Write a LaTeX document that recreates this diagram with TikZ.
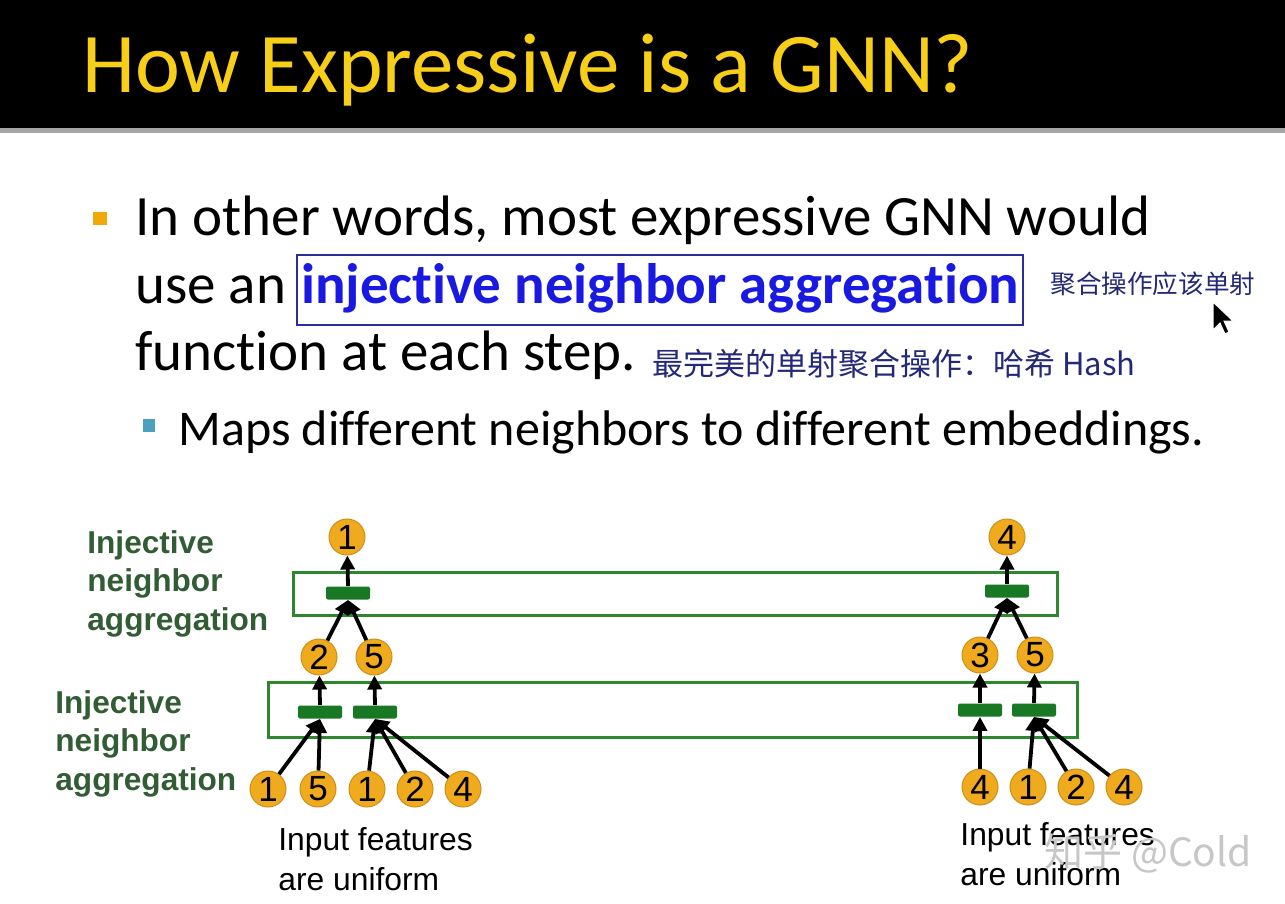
\documentclass[tikz,border=0pt]{standalone}
\usepackage{fontspec}
\usepackage{xcolor}
\usepackage{tikz}
\usetikzlibrary{arrows.meta,positioning}
\setmainfont{Carlito}[Ligatures=NoCommon]
\newfontfamily\arialf{Liberation Sans}
\newfontfamily\cjkf{Noto Sans CJK SC}
\definecolor{slidegold}{RGB}{247,206,24}
\definecolor{bulletorange}{RGB}{240,168,10}
\definecolor{bulletblue}{RGB}{75,160,190}
\definecolor{keyblue}{RGB}{25,25,225}
\definecolor{keyframe}{RGB}{45,45,150}
\definecolor{penblue}{RGB}{35,40,120}
\definecolor{labgreen}{RGB}{50,92,52}
\definecolor{boxgreen}{RGB}{45,135,45}
\definecolor{bargreen}{RGB}{25,120,35}
\definecolor{featorange}{RGB}{240,170,30}

\begin{document}
\begin{tikzpicture}[x=0.5pt,y=-0.5pt,
  feat/.style={circle, fill=featorange, draw=featorange!85!black, line width=0.5pt,
               minimum size=18pt, inner sep=0pt, font=\arialf\fontsize{17.5}{17.5}\selectfont},
  aggbar/.style={rectangle, rounded corners=1pt, fill=bargreen, minimum width=22pt,
               minimum height=6.5pt, inner sep=0pt},
  layerbox/.style={draw=boxgreen, line width=1.5pt},
  arr/.style={-{Triangle[length=7pt,width=7pt]}, line width=1.9pt, black},
  body/.style={anchor=base west, inner sep=0pt, font=\fontsize{28.5}{34}\selectfont},
  sub/.style={anchor=base west, inner sep=0pt, font=\fontsize{25}{30}\selectfont},
  pen/.style={anchor=base west, inner sep=0pt, text=penblue},
  lab/.style={anchor=north west, inner sep=0pt, align=left, text=labgreen,
              font=\arialf\bfseries\fontsize{15.8}{19.2}\selectfont},
  note/.style={anchor=north west, inner sep=0pt, align=left,
              font=\arialf\fontsize{15.9}{20}\selectfont}]
\useasboundingbox (0,0) rectangle (1285,904);
\fill[white] (0,0) rectangle (1285,904);
\fill[black] (0,0) rectangle (1285,128);
\fill[black!35] (0,128) rectangle (1285,133);
\node[anchor=base west, inner sep=0pt, text=slidegold, font=\fontsize{42.5}{45}\selectfont]
  (title) at (82,93) {How Expressive is a GNN?};

\fill[bulletorange] (93,212) rectangle (107,225);
\node[body] (l1) at (135,235) {In other words, most expressive GNN would};
\node[body] (l2) at (135,303) {use an};
\node[body, draw=keyframe, line width=1pt, inner xsep=2pt, text height=24pt, text depth=11pt,
  text=keyblue, font=\bfseries\fontsize{28.5}{34}\selectfont] (key) at (296,303)
  {injective neighbor aggregation};
\node[body] (l3) at (135,370) {function at each step.};
\node[pen, font=\cjkf\fontsize{12.8}{13}\selectfont] (pen1) at (1050,293) {聚合操作应该单射};
\node[pen, font=\cjkf\fontsize{15.5}{16}\selectfont] (pen2) at (652,375) {最完美的单射聚合操作：哈希 Hash};
\filldraw[black, draw=white, line width=0.5pt] (1213,302) -- (1213,330) -- (1220,323)
  -- (1225,334) -- (1229,332) -- (1224,321) -- (1233,321) -- cycle;
\fill[bulletblue] (143,419) rectangle (155,432);
\node[sub] (l4) at (178,445) {Maps different neighbors to different embeddings.};

\node[lab] (labtop) at (87,530) {Injective\\neighbor\\aggregation};
\node[lab] (labbot) at (55,690) {Injective\\neighbor\\aggregation};

\draw[layerbox] (293,572) rectangle (1057,615);
\draw[layerbox] (268,682) rectangle (1077,737);

\node[feat] (lt) at (347,537) {1};
\node[aggbar] (la) at (348,593) {};
\node[feat] (lm1) at (319,657) {2};
\node[feat] (lm2) at (374,657) {5};
\node[aggbar] (lb1) at (320,712) {};
\node[aggbar] (lb2) at (375,712) {};
\node[feat] (lx1) at (268,789) {1};
\node[feat] (lx2) at (318,789) {5};
\node[feat] (lx3) at (367,789) {1};
\node[feat] (lx4) at (415,789) {2};
\node[feat] (lx5) at (463,789) {4};
\draw[arr] (lx1) -- (lb1.south);
\draw[arr] (lx2) -- (lb1.south);
\draw[arr] (lx3) -- (lb2.south);
\draw[arr] (lx4) -- (lb2.south);
\draw[arr] (lx5) -- (lb2.south);
\draw[arr] (lb1.north) -- (lm1);
\draw[arr] (lb2.north) -- (lm2);
\draw[arr] (lm1) -- (la.south);
\draw[arr] (lm2) -- (la.south);
\draw[arr] (la.north) -- (lt);

\node[feat] (rt) at (1007,537) {4};
\node[aggbar] (ra) at (1007,591) {};
\node[feat] (rm1) at (980,655) {3};
\node[feat] (rm2) at (1035,655) {5};
\node[aggbar] (rb1) at (980,710) {};
\node[aggbar] (rb2) at (1034,710) {};
\node[feat] (rx1) at (980,787) {4};
\node[feat] (rx2) at (1028,787) {1};
\node[feat] (rx3) at (1076,787) {2};
\node[feat] (rx4) at (1124,787) {4};
\draw[arr] (rx1) -- (rb1.south);
\draw[arr] (rx2) -- (rb2.south);
\draw[arr] (rx3) -- (rb2.south);
\draw[arr] (rx4) -- (rb2.south);
\draw[arr] (rb1.north) -- (rm1);
\draw[arr] (rb2.north) -- (rm2);
\draw[arr] (rm1) -- (ra.south);
\draw[arr] (rm2) -- (ra.south);
\draw[arr] (ra.north) -- (rt);

\node[note] (inl) at (278,827) {Input features\\are uniform};
\node[note] (inr) at (960,822) {Input features\\are uniform};
\node[anchor=base west, inner sep=0pt, text=black!22, font=\cjkf\fontsize{19.5}{20}\selectfont]
  (mark) at (1044,866) {知乎 @Cold};
\end{tikzpicture}
\end{document}
